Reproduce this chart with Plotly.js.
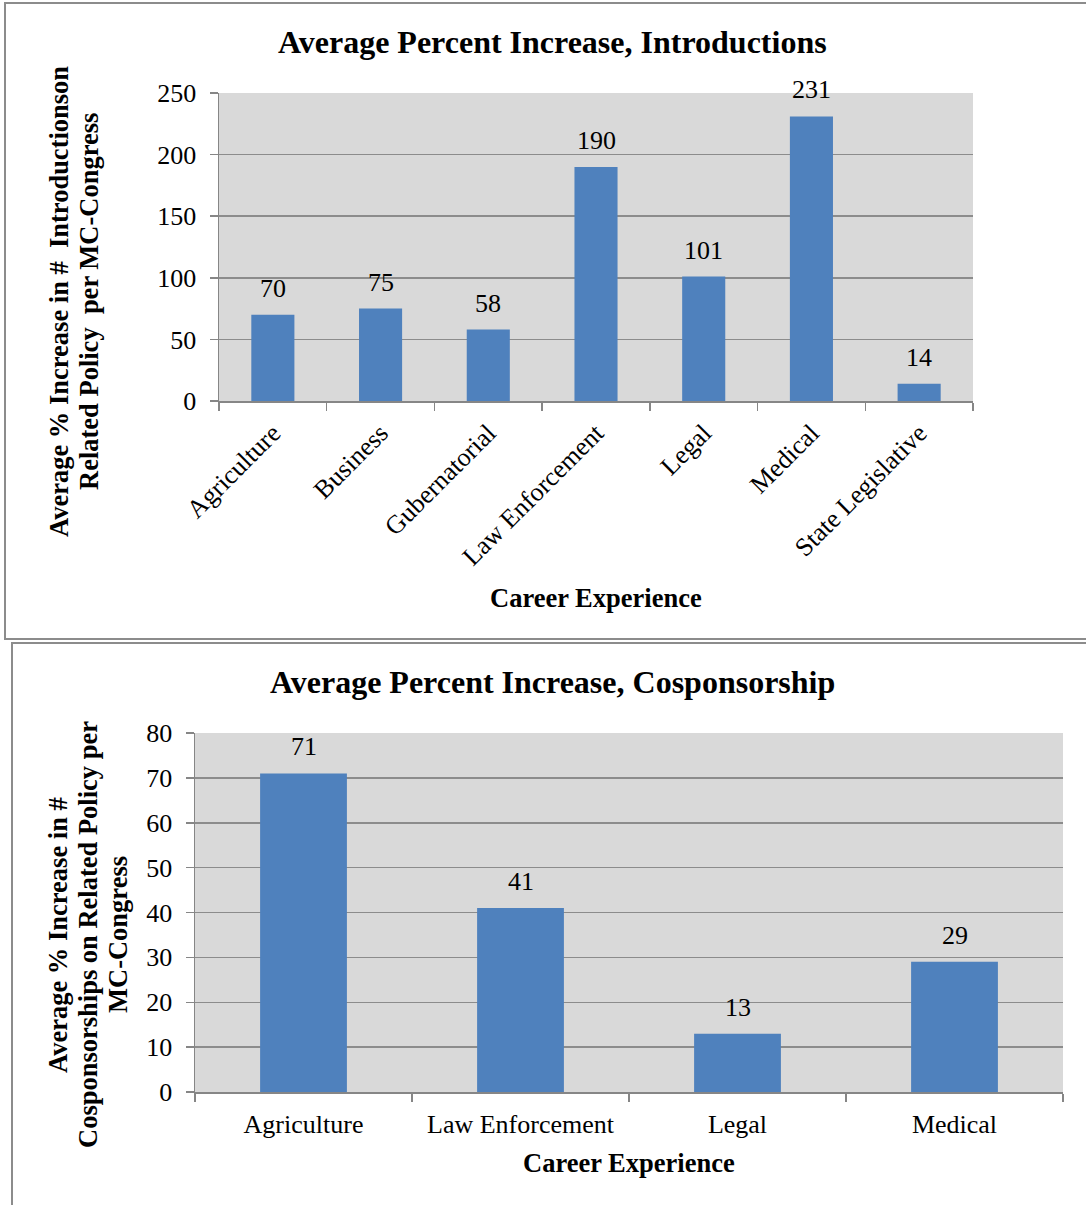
<!DOCTYPE html>
<html>
<head>
<meta charset="utf-8">
<script src="https://cdn.plot.ly/plotly-3.0.1.min.js"></script>
<style>
  html, body { margin: 0; padding: 0; background: #ffffff; }
  #chart { width: 1086px; height: 1205px; }
</style>
</head>
<body>
<div id="chart"></div>
<script>
// Average percent increase in introductions, by career experience
const introCategories = ["Agriculture", "Business", "Gubernatorial", "Law Enforcement", "Legal", "Medical", "State Legislative"];
const introValues = [70, 75, 58, 190, 101, 231, 14];
const introTicks = [0, 50, 100, 150, 200, 250];

// Average percent increase in cosponsorships, by career experience
const cospCategories = ["Agriculture", "Law Enforcement", "Legal", "Medical"];
const cospValues = [71, 41, 13, 29];
const cospTicks = [0, 10, 20, 30, 40, 50, 60, 70, 80];

const introTitle = "Average Percent Increase, Introductions";
const cospTitle = "Average Percent Increase, Cosponsorship";
const xTitle = "Career Experience";
const introYTitle = ["Average % Increase in #  Introductionson", "Related Policy  per MC-Congress"];
const cospYTitle = ["Average % Increase in #", "Cosponsorships on Related Policy per", "MC-Congress"];

const W = 1086, H = 1205;
const px = x => x / W;          // pixel -> paper x
const py = y => 1 - y / H;      // pixel -> paper y (from top)

const SERIF = "Liberation Serif, Times New Roman, serif";
const BAR = "#4F81BD";
const GRID = "#8c8c8c";
const AXIS = "#868686";
const baseFont = { family: SERIF, size: 26, color: "#000000" };
const boldFont = { family: SERIF, size: 26.5, color: "#000000", weight: "bold" };
const titleFont = { family: SERIF, size: 32, color: "#000000", weight: "bold" };

const traces = [
  {
    type: "bar", x: introCategories, y: introValues,
    xaxis: "x", yaxis: "y",
    marker: { color: BAR, line: { width: 0 } },
    hoverinfo: "skip"
  },
  {
    type: "bar", x: cospCategories, y: cospValues,
    xaxis: "x2", yaxis: "y2",
    marker: { color: BAR, line: { width: 0 } },
    hoverinfo: "skip"
  }
];

function catAxis(domain, angle, standoff) {
  return {
    domain: domain, type: "category",
    showline: true, linecolor: AXIS, linewidth: 1.5,
    ticks: "outside", tickson: "boundaries", ticklen: 8, tickcolor: AXIS, tickwidth: 1.5,
    tickangle: angle, tickfont: baseFont, ticklabelstandoff: standoff,
    showgrid: false, zeroline: false, fixedrange: true, automargin: false
  };
}
function valAxis(domain, range, ticks) {
  return {
    domain: domain, range: range,
    tickvals: ticks, ticktext: ticks.map(String),
    showline: true, linecolor: AXIS, linewidth: 1.5,
    ticks: "outside", ticklen: 8, tickcolor: AXIS, tickwidth: 1.5,
    tickfont: baseFont, ticklabelstandoff: 8,
    showgrid: true, gridcolor: GRID, gridwidth: 1.5,
    zeroline: false, fixedrange: true, automargin: false
  };
}

const annotations = [];
// value labels above each bar
introCategories.forEach((c, i) => annotations.push({
  xref: "x", yref: "y", x: c, y: introValues[i], text: String(introValues[i]),
  showarrow: false, yanchor: "bottom", yshift: 10, font: baseFont
}));
cospCategories.forEach((c, i) => annotations.push({
  xref: "x2", yref: "y2", x: c, y: cospValues[i], text: String(cospValues[i]),
  showarrow: false, yanchor: "bottom", yshift: 10, font: baseFont
}));
// chart titles
annotations.push({ xref: "paper", yref: "paper", x: px(552), y: py(42), text: "<b>" + introTitle + "</b>",
  showarrow: false, xanchor: "center", yanchor: "middle", font: titleFont });
annotations.push({ xref: "paper", yref: "paper", x: px(552), y: py(682), text: "<b>" + cospTitle + "</b>",
  showarrow: false, xanchor: "center", yanchor: "middle", font: titleFont });
// x axis titles
annotations.push({ xref: "paper", yref: "paper", x: px(596), y: py(598), text: "<b>" + xTitle + "</b>",
  showarrow: false, xanchor: "center", yanchor: "middle", font: boldFont });
annotations.push({ xref: "paper", yref: "paper", x: px(629), y: py(1163), text: "<b>" + xTitle + "</b>",
  showarrow: false, xanchor: "center", yanchor: "middle", font: boldFont });
// y axis titles, one rotated line each
const introYx = [59, 89];
introYTitle.forEach((t, i) => annotations.push({
  xref: "paper", yref: "paper", x: px(introYx[i]), y: py(302), text: "<b>" + t.replace(/  /g, " &nbsp;") + "</b>",
  showarrow: false, textangle: -90, xanchor: "center", yanchor: "middle", font: boldFont
}));
const cospYx = [58, 88, 118];
cospYTitle.forEach((t, i) => annotations.push({
  xref: "paper", yref: "paper", x: px(cospYx[i]), y: py(935), text: "<b>" + t + "</b>",
  showarrow: false, textangle: -90, xanchor: "center", yanchor: "middle", font: boldFont
}));

// frames around each chart
const shapes = [
  { type: "rect", xref: "paper", yref: "paper", x0: px(5), x1: px(1100), y0: py(639), y1: py(3),
    line: { color: "#8c8c8c", width: 2 }, fillcolor: "rgba(0,0,0,0)", layer: "below" },
  { type: "rect", xref: "paper", yref: "paper", x0: px(12), x1: px(1100), y0: py(1220), y1: py(643),
    line: { color: "#8c8c8c", width: 2 }, fillcolor: "rgba(0,0,0,0)", layer: "below" }
];

const layout = {
  width: W, height: H,
  margin: { l: 0, r: 0, t: 0, b: 0, pad: 0 },
  paper_bgcolor: "#ffffff",
  plot_bgcolor: "#D9D9D9",
  showlegend: false,
  bargap: 0.6,
  font: baseFont,
  xaxis: Object.assign(catAxis([px(219), px(973)], -45, 5), { anchor: "y" }),
  yaxis: Object.assign(valAxis([py(401), py(93)], [0, 250], introTicks), { anchor: "x" }),
  xaxis2: Object.assign(catAxis([px(195), px(1063)], 0, 8), { anchor: "y2" }),
  yaxis2: Object.assign(valAxis([py(1092), py(733)], [0, 80], cospTicks), { anchor: "x2" }),
  annotations: annotations,
  shapes: shapes
};

Plotly.newPlot("chart", traces, layout, { displayModeBar: false, staticPlot: true });
</script>
</body>
</html>
